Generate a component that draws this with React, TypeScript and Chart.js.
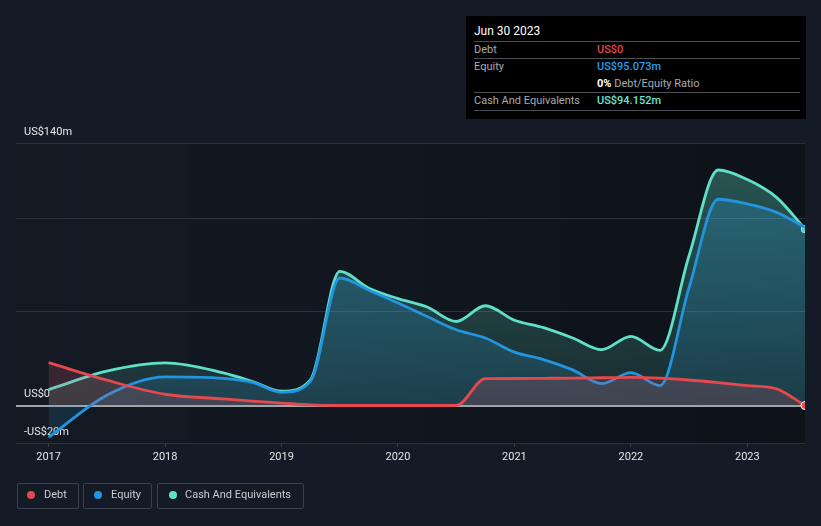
import React, { useEffect, useRef } from "react";
import { Chart, registerables } from "chart.js";

Chart.register(...registerables);

const xs = [2017.0, 2017.5, 2018.0, 2018.5, 2018.75, 2019.0, 2019.25, 2019.5, 2019.75, 2020.0, 2020.25, 2020.5, 2020.75, 2021.0, 2021.25, 2021.5, 2021.75, 2022.0, 2022.25, 2022.5, 2022.75, 2023.0, 2023.25, 2023.495];
const debt = [22.9, 13.5, 6, 3.5, 2.3, 1.3, 0.3, 0, 0, 0, 0, 0, 14.3, 14.4, 14.5, 14.6, 14.8, 15, 14.6, 13.6, 12.2, 10.6, 8.9, 0];
const equity = [-17, 5.5, 15.3, 14.5, 12.3, 7, 13, 68, 61.5, 54.7, 47.5, 40.4, 36, 28.5, 24.5, 19, 11.7, 17.5, 10.6, 63, 110, 107.5, 103, 95.073];
const cash = [8.5, 18.3, 22.7, 17.4, 12.8, 7.6, 13.8, 71.5, 62.5, 57, 52.5, 44.8, 53.2, 45.5, 41.5, 36, 29.8, 36.9, 29.4, 80, 125.6, 120.5, 111, 94.152];

const yTicks = [-20, 0, 50, 100, 140];
const yLabels: Record<number, string> = { [-20]: "-US$20m", 0: "US$0", 140: "US$140m" };
const xTicks = [2017, 2018, 2019, 2020, 2021, 2022, 2023];

const FONT = "Roboto, 'Noto Sans', sans-serif";
const BG = "#151b26";
const DEBT_C = "#e5484d";
const EQ_C = "#2394df";
const CASH_C = "#5fe0c8";

function vGrad(chart: any, top: string, bottom: string) {
  const area = chart.chartArea;
  if (!area) return top;
  const y0 = chart.scales.y.getPixelForValue(0);
  const g = chart.ctx.createLinearGradient(0, area.top, 0, y0);
  g.addColorStop(0, top);
  g.addColorStop(1, bottom);
  return g;
}

const bgPlugin = {
  id: "plotBg",
  beforeDraw(chart: any) {
    const { ctx, chartArea } = chart;
    if (!chartArea) return;
    const g = ctx.createLinearGradient(chartArea.left, 0, chartArea.right, 0);
    g.addColorStop(0, "rgba(0,0,0,0.03)");
    g.addColorStop(1, "rgba(0,0,0,0.33)");
    ctx.save();
    ctx.fillStyle = g;
    ctx.fillRect(chartArea.left, chartArea.top, chartArea.right - chartArea.left, chartArea.bottom - chartArea.top);
    ctx.restore();
  },
};

function toPts(vals: number[]) {
  return vals.map((v, i) => ({ x: xs[i], y: v }));
}

export default function App() {
  const ref = useRef<HTMLCanvasElement | null>(null);

  useEffect(() => {
    document.body.style.margin = "0";
    document.body.style.background = BG;
    const last = xs.length - 1;
    const ptR = (ctx: any) => (ctx.dataIndex === last ? 4 : 0);
    const chart = new Chart(ref.current as HTMLCanvasElement, {
      type: "line",
      data: {
        datasets: [
          {
            label: "Debt",
            data: toPts(debt),
            borderColor: DEBT_C,
            borderWidth: 2.8,
            fill: "origin",
            backgroundColor: (c: any) => vGrad(c.chart, "rgba(225,95,110,0.22)", "rgba(225,95,110,0.18)"),
            cubicInterpolationMode: "monotone",
            pointRadius: ptR,
            pointHoverRadius: ptR,
            pointBackgroundColor: DEBT_C,
            pointBorderColor: "#ffffff",
            pointBorderWidth: 1,
          },
          {
            label: "Equity",
            data: toPts(equity),
            borderColor: EQ_C,
            borderWidth: 2.8,
            fill: "origin",
            backgroundColor: (c: any) => vGrad(c.chart, "rgba(45,150,205,0.32)", "rgba(45,150,205,0.16)"),
            cubicInterpolationMode: "monotone",
            pointRadius: 0,
            pointHoverRadius: 0,
          },
          {
            label: "Cash And Equivalents",
            data: toPts(cash),
            borderColor: CASH_C,
            borderWidth: 2.8,
            fill: "origin",
            backgroundColor: (c: any) => vGrad(c.chart, "rgba(95,224,200,0.34)", "rgba(95,224,200,0.12)"),
            cubicInterpolationMode: "monotone",
            pointRadius: ptR,
            pointHoverRadius: ptR,
            pointBackgroundColor: CASH_C,
            pointBorderColor: "#ffffff",
            pointBorderWidth: 1,
            pointStyle: "rectRounded",
          },
        ],
      },
      options: {
        animation: false,
        responsive: false,
        maintainAspectRatio: false,
        layout: { padding: { left: 16, right: 16, top: 143, bottom: 0 } },
        plugins: { legend: { display: false }, tooltip: { enabled: false } },
        events: [],
        scales: {
          x: {
            type: "linear",
            min: 2016.72,
            max: 2023.495,
            afterBuildTicks: (s: any) => {
              s.ticks = xTicks.map((v) => ({ value: v }));
            },
            afterFit: (s: any) => {
              s.height = 83;
            },
            ticks: {
              color: "#e6e6e6",
              font: { family: FONT, size: 11 },
              padding: 4,
              maxRotation: 0,
              autoSkip: false,
              callback: (v: any) => String(v),
            },
            grid: {
              drawOnChartArea: false,
              drawTicks: true,
              tickLength: 4,
              color: "#3b404b",
            },
            border: { display: false },
          },
          y: {
            min: -20,
            max: 140,
            afterBuildTicks: (s: any) => {
              s.ticks = yTicks.map((v) => ({ value: v }));
            },
            afterFit: (s: any) => {
              s.width = 0;
            },
            ticks: {
              mirror: true,
              padding: 8,
              labelOffset: -11,
              color: "#e6e6e6",
              font: { family: FONT, size: 11 },
              callback: (v: any) => yLabels[v as number] ?? "",
            },
            grid: {
              drawTicks: false,
              color: (c: any) => (c.tick && c.tick.value === 0 ? "#a3a6ab" : "#2c313b"),
              lineWidth: (c: any) => (c.tick && c.tick.value === 0 ? 2 : 1),
            },
            border: { display: false },
          },
        },
      },
      plugins: [bgPlugin],
    } as any);
    return () => chart.destroy();
  }, []);

  const lab: React.CSSProperties = { position: "absolute", left: 474, fontSize: 11, color: "#a8abb0", lineHeight: "14px" };
  const val: React.CSSProperties = { position: "absolute", left: 597, fontSize: 11, lineHeight: "14px", fontWeight: 500 };
  const sep = (top: number): React.CSSProperties => ({ position: "absolute", left: 474, width: 326, top, height: 1, background: "#4a4e55" });
  const legItem = (left: number, width: number): React.CSSProperties => ({
    position: "absolute",
    left,
    top: 483,
    width,
    height: 26,
    boxSizing: "border-box",
    border: "1px solid #3d424d",
    borderRadius: 2,
  });
  const dot = (left: number, color: string): React.CSSProperties => ({
    position: "absolute",
    left: left - 4,
    top: 491,
    width: 8,
    height: 8,
    borderRadius: 4,
    background: color,
  });
  const legText = (left: number): React.CSSProperties => ({
    position: "absolute",
    left,
    top: 488,
    fontSize: 11,
    lineHeight: "14px",
    color: "#c9ccd1",
  });

  return (
    <div style={{ position: "fixed", left: 0, top: 0, width: 821, height: 526, background: BG, fontFamily: FONT, overflow: "hidden" }}>
      <canvas ref={ref} width={821} height={526} style={{ position: "absolute", left: 0, top: 0 }} />
      <div style={{ position: "absolute", left: 466, top: 16, width: 340, height: 103, background: "#000000" }} />
      <div style={{ position: "absolute", left: 474, top: 24, fontSize: 12, lineHeight: "15px", color: "#ffffff" }}>Jun 30 2023</div>
      <div style={sep(41)} />
      <div style={{ ...lab, top: 43 }}>Debt</div>
      <div style={{ ...val, top: 43, color: DEBT_C }}>US$0</div>
      <div style={sep(58)} />
      <div style={{ ...lab, top: 60 }}>Equity</div>
      <div style={{ ...val, top: 60, color: "#2a9ee8" }}>US$95.073m</div>
      <div style={{ ...val, top: 77, color: "#a8abb0", fontWeight: 400 }}>
        <span style={{ color: "#ffffff", fontWeight: 700 }}>0%</span> Debt/Equity Ratio
      </div>
      <div style={sep(92)} />
      <div style={{ ...lab, top: 94 }}>Cash And Equivalents</div>
      <div style={{ ...val, top: 94, color: "#6ee4cf" }}>US$94.152m</div>
      <div style={sep(110)} />

      <div style={legItem(17, 62)} />
      <div style={dot(31, DEBT_C)} />
      <div style={legText(44)}>Debt</div>
      <div style={legItem(83, 69)} />
      <div style={dot(98, EQ_C)} />
      <div style={legText(111)}>Equity</div>
      <div style={legItem(157, 147)} />
      <div style={dot(173, CASH_C)} />
      <div style={legText(185)}>Cash And Equivalents</div>
    </div>
  );
}
